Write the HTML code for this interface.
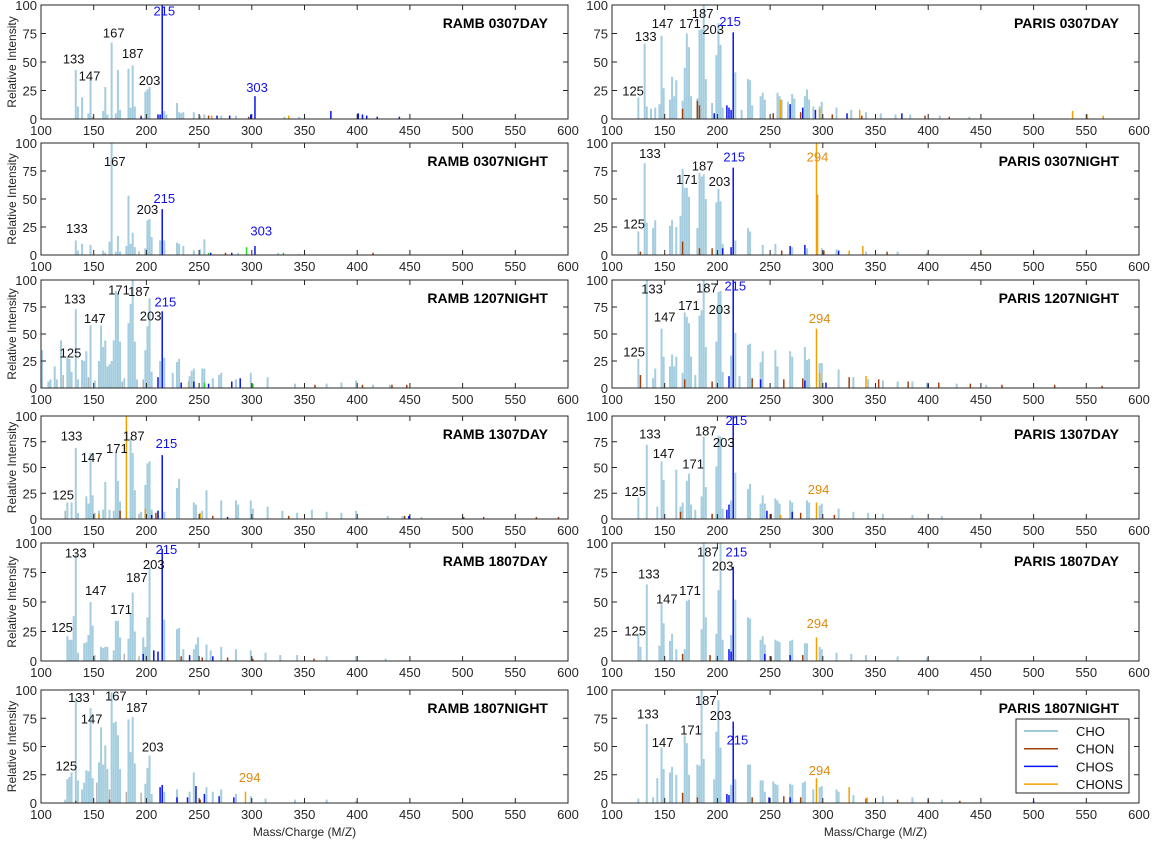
<!DOCTYPE html>
<html><head><meta charset="utf-8"><style>
html,body{margin:0;padding:0;background:#fff;}
svg{display:block;font-family:"Liberation Sans",Arial,sans-serif;}
</style></head><body>
<svg id="fig" width="1152" height="843" viewBox="0 0 1152 843" xmlns="http://www.w3.org/2000/svg">
<rect x="0" y="0" width="1152" height="843" fill="#fff"/>
</svg>
<script>
// ---- data: [m/z, relative intensity, class]  c=CHO n=CHON s=CHOS x=CHONS g=other e=green ----
const xTicks = [100,150,200,250,300,350,400,450,500,550,600];
const yTicks = [0,25,50,75,100];
const panelTitles = ["RAMB 0307DAY","PARIS 0307DAY","RAMB 0307NIGHT","PARIS 0307NIGHT","RAMB 1207NIGHT","PARIS 1207NIGHT","RAMB 1307DAY","PARIS 1307DAY","RAMB 1807DAY","PARIS 1807DAY","RAMB 1807NIGHT","PARIS 1807NIGHT"];

const peaksRamb0307Day = [[133,43,'c'],[135,11,'c'],[139,19,'c'],[145,5,'c'],[147,37,'c'],[159,7,'c'],[161,28,'c'],[163,4,'c'],[167,67,'c'],[171,5,'c'],[173,43,'c'],[175,8,'c'],[183,44,'c'],[185,10,'c'],[187,47,'c'],[189,11,'c'],[199,24,'c'],[201,26,'c'],[203,28,'c'],[217,7,'c'],[219,4,'c'],[229,14,'c'],[231,6,'c'],[233,5,'c'],[235,6,'c'],[245,6,'c'],[255,4,'c'],[271,3,'c'],[285,3,'c'],[299,2,'c'],[331,2,'c'],[345,2,'c'],
[215,100,'s'],[303,20,'s'],[213,4,'s'],[211,4,'s'],[195,2,'s'],[267,3,'s'],[279,3,'s'],[299,4,'s'],[375,7,'s'],[401,5,'s'],[405,4,'s'],[409,3,'s'],[419,2,'s'],[440,2,'s'],
[195,3,'n'],[259,3,'n'],[297,2,'n'],[335,3,'x'],[262,3,'x'],[149,2,'g'],[251,3,'g']];
const peaksRamb0307Night = [[133,13,'c'],[135,4,'c'],[139,10,'c'],[147,9,'c'],[159,4,'c'],[165,12,'c'],[167,100,'c'],[171,3,'c'],[173,17,'c'],[175,3,'c'],[181,8,'c'],[183,53,'c'],[185,10,'c'],[187,20,'c'],[189,7,'c'],[199,6,'c'],[201,31,'c'],[203,32,'c'],[205,16,'c'],[213,13,'c'],[217,13,'c'],[229,11,'c'],[231,10,'c'],[235,8,'c'],[245,4,'c'],[251,5,'c'],[255,14,'c'],[287,2,'c'],[325,2,'c'],[345,1,'c'],
[215,41,'s'],[303,8,'s'],[261,2,'s'],[281,2,'s'],[295,7,'e'],[259,2,'e'],[330,2,'e'],[161,2,'g'],[193,3,'g'],[275,2,'n'],[415,2,'n']];
const peaksRamb1207Night = [[101,35,'c'],[107,6,'c'],[109,8,'c'],[113,20,'c'],[115,8,'c'],[119,44,'c'],[125,28,'c'],[127,27,'c'],[129,15,'c'],[133,73,'c'],[135,8,'c'],[139,26,'c'],[141,25,'c'],[143,34,'c'],[147,58,'c'],[151,7,'c'],[155,25,'c'],[157,58,'c'],[159,38,'c'],[161,44,'c'],[163,20,'c'],[165,22,'c'],[167,25,'c'],[169,44,'c'],[171,90,'c'],[173,88,'c'],[175,43,'c'],[179,9,'c'],[183,60,'c'],[185,78,'c'],[187,100,'c'],[189,43,'c'],[191,8,'c'],[199,35,'c'],[201,57,'c'],[203,83,'c'],[205,15,'c'],[213,25,'c'],[217,28,'c'],[225,14,'c'],[229,24,'c'],[231,27,'c'],[241,11,'c'],[243,16,'c'],[245,18,'c'],[253,18,'c'],[255,18,'c'],[263,9,'c'],[269,12,'c'],[271,14,'c'],[285,8,'c'],[299,14,'c'],[315,10,'c'],[341,4,'c'],[371,4,'c'],[385,5,'c'],[399,7,'c'],[415,3,'c'],[431,3,'c'],
[215,71,'s'],[211,10,'s'],[233,5,'s'],[245,6,'s'],[281,6,'s'],[289,9,'s'],[259,4,'s'],[255,5,'e'],[301,4,'e'],[121,12,'g'],[145,10,'g'],[177,6,'g'],[197,8,'g'],[240,6,'g'],[360,3,'n'],[405,3,'n'],[433,3,'n'],[447,3,'n']];
const peaksRamb1307Day = [[125,16,'c'],[129,16,'c'],[133,69,'c'],[135,6,'c'],[143,22,'c'],[145,15,'c'],[147,64,'c'],[149,23,'c'],[155,8,'c'],[159,9,'c'],[161,36,'c'],[165,9,'c'],[169,8,'c'],[171,65,'c'],[173,37,'c'],[175,17,'c'],[185,78,'c'],[187,64,'c'],[189,28,'c'],[195,7,'c'],[199,33,'c'],[201,54,'c'],[203,56,'c'],[205,9,'c'],[211,8,'c'],[217,7,'c'],[229,30,'c'],[231,39,'c'],[245,16,'c'],[247,14,'c'],[253,8,'c'],[257,28,'c'],[271,18,'c'],[285,18,'c'],[287,14,'c'],[299,18,'c'],[301,10,'c'],[315,12,'c'],[329,8,'c'],[343,6,'c'],[357,9,'c'],[371,7,'c'],[385,6,'c'],[399,8,'c'],[429,3,'c'],[443,3,'c'],[461,2,'c'],
[181,100,'x'],[155,5,'x'],[199,10,'x'],[251,6,'x'],[215,62,'s'],[211,8,'s'],[205,4,'s'],[277,2,'s'],[449,3,'s'],[175,8,'n'],[209,6,'n'],[263,3,'n'],[335,3,'n'],[445,3,'n'],[501,2,'n'],[520,2,'n'],[570,2,'n'],[591,2,'n'],[123,8,'g'],[151,6,'g'],[193,5,'g']];
const peaksRamb1807Day = [[125,21,'c'],[127,18,'c'],[129,18,'c'],[131,38,'c'],[133,90,'c'],[135,7,'c'],[141,15,'c'],[143,16,'c'],[145,22,'c'],[147,50,'c'],[149,30,'c'],[157,12,'c'],[159,11,'c'],[161,12,'c'],[163,12,'c'],[169,9,'c'],[171,34,'c'],[173,34,'c'],[175,20,'c'],[183,19,'c'],[185,40,'c'],[187,58,'c'],[189,25,'c'],[197,20,'c'],[199,12,'c'],[201,37,'c'],[203,80,'c'],[217,35,'c'],[229,27,'c'],[231,28,'c'],[235,10,'c'],[245,10,'c'],[247,14,'c'],[249,20,'c'],[257,14,'c'],[261,9,'c'],[271,12,'c'],[285,10,'c'],[299,9,'c'],[313,7,'c'],[327,5,'c'],[343,5,'c'],[371,4,'c'],[399,4,'c'],[427,2,'c'],
[215,95,'s'],[211,8,'s'],[197,6,'s'],[207,9,'s'],[241,5,'s'],[263,4,'s'],[233,4,'n'],[253,3,'n'],[277,3,'n'],[301,2,'n'],[359,2,'n'],[151,5,'g'],[179,6,'g'],[193,4,'g']];
const peaksRamb1807Night = [[123,3,'c'],[125,21,'c'],[127,23,'c'],[129,27,'c'],[133,93,'c'],[135,20,'c'],[139,12,'c'],[141,18,'c'],[143,29,'c'],[145,28,'c'],[147,84,'c'],[149,22,'c'],[155,36,'c'],[157,67,'c'],[159,34,'c'],[161,51,'c'],[163,30,'c'],[167,98,'c'],[169,71,'c'],[171,72,'c'],[173,60,'c'],[175,30,'c'],[183,74,'c'],[185,45,'c'],[187,76,'c'],[189,35,'c'],[199,17,'c'],[201,31,'c'],[203,42,'c'],[205,8,'c'],[217,10,'c'],[229,12,'c'],[241,10,'c'],[245,27,'c'],[257,14,'c'],[263,10,'c'],[271,12,'c'],[285,8,'c'],[299,6,'c'],[313,4,'c'],[341,3,'c'],[371,3,'c'],[399,2,'c'],
[213,14,'s'],[215,16,'s'],[229,5,'s'],[239,5,'s'],[247,15,'s'],[255,8,'s'],[269,6,'s'],[283,5,'s'],[294,10,'x'],[133,2,'n'],[165,3,'n'],[251,3,'n'],[153,18,'g'],[165,12,'g'],[181,10,'g'],[195,9,'g']];
const peaksParis0307Day = [[125,19,'c'],[131,66,'c'],[133,11,'c'],[137,9,'c'],[141,10,'c'],[145,13,'c'],[147,73,'c'],[149,27,'c'],[155,17,'c'],[157,37,'c'],[159,20,'c'],[161,34,'c'],[167,16,'c'],[169,45,'c'],[171,75,'c'],[173,63,'c'],[175,20,'c'],[181,18,'c'],[183,78,'c'],[185,79,'c'],[187,100,'c'],[189,35,'c'],[195,14,'c'],[199,56,'c'],[201,84,'c'],[203,65,'c'],[205,10,'c'],[217,41,'c'],[223,8,'c'],[229,35,'c'],[231,34,'c'],[233,12,'c'],[241,20,'c'],[243,23,'c'],[245,17,'c'],[257,23,'c'],[259,20,'c'],[261,17,'c'],[267,15,'c'],[271,22,'c'],[273,18,'c'],[283,20,'c'],[285,26,'c'],[287,17,'c'],[291,11,'c'],[297,11,'c'],[299,15,'c'],[313,10,'c'],[327,8,'c'],[341,6,'c'],[355,5,'c'],[369,4,'c'],[383,4,'c'],[411,3,'c'],[439,2,'c'],
[167,9,'n'],[181,16,'n'],[183,12,'n'],[253,5,'n'],[279,6,'n'],[309,4,'n'],[337,3,'n'],[397,3,'n'],[420,2,'n'],[197,5,'s'],[209,12,'s'],[211,10,'s'],[215,76,'s'],[213,8,'s'],[269,13,'s'],[281,10,'s'],[293,8,'s'],[323,5,'s'],[375,5,'s'],[260,17,'x'],[297,9,'x'],[335,8,'x'],[537,7,'x'],[551,4,'x'],[566,3,'x']];
const peaksParis0307Night = [[125,21,'c'],[131,82,'c'],[133,29,'c'],[139,24,'c'],[141,31,'c'],[155,26,'c'],[157,31,'c'],[161,25,'c'],[165,35,'c'],[167,77,'c'],[169,60,'c'],[171,60,'c'],[173,52,'c'],[181,24,'c'],[183,73,'c'],[185,70,'c'],[187,72,'c'],[189,50,'c'],[199,47,'c'],[201,59,'c'],[203,48,'c'],[205,10,'c'],[217,13,'c'],[229,24,'c'],[231,21,'c'],[243,9,'c'],[255,10,'c'],[271,7,'c'],[285,6,'c'],[299,6,'c'],[313,5,'c'],[341,3,'c'],[371,3,'c'],[399,2,'c'],
[167,12,'n'],[127,3,'n'],[183,6,'n'],[195,6,'n'],[261,4,'n'],[301,4,'n'],[361,3,'n'],[215,78,'s'],[205,6,'s'],[213,7,'s'],[269,8,'s'],[283,9,'s'],[315,4,'s'],[294,100,'x'],[295,54,'x'],[338,8,'x'],[325,4,'x'],[450,2,'x']];
const peaksParis1207Night = [[125,27,'c'],[133,100,'c'],[139,9,'c'],[141,18,'c'],[147,55,'c'],[149,29,'c'],[155,20,'c'],[157,31,'c'],[159,20,'c'],[161,29,'c'],[167,14,'c'],[169,70,'c'],[171,66,'c'],[173,60,'c'],[175,29,'c'],[179,12,'c'],[183,67,'c'],[185,72,'c'],[187,100,'c'],[189,38,'c'],[199,43,'c'],[201,89,'c'],[203,90,'c'],[205,15,'c'],[213,30,'c'],[217,51,'c'],[221,11,'c'],[229,40,'c'],[231,41,'c'],[241,24,'c'],[243,34,'c'],[255,35,'c'],[257,20,'c'],[269,34,'c'],[271,29,'c'],[283,38,'c'],[285,26,'c'],[287,27,'c'],[297,23,'c'],[299,23,'c'],[315,17,'c'],[329,10,'c'],[343,8,'c'],[357,7,'c'],[371,6,'c'],[385,6,'c'],[399,5,'c'],[427,4,'c'],[455,3,'c'],
[127,12,'n'],[169,8,'n'],[195,6,'n'],[233,9,'n'],[263,8,'n'],[281,9,'n'],[325,10,'n'],[353,8,'n'],[381,6,'n'],[410,5,'n'],[440,4,'n'],[470,3,'n'],[520,3,'n'],[565,2,'n'],[215,100,'s'],[211,11,'s'],[241,8,'s'],[283,7,'s'],[303,5,'s'],[400,4,'s'],[294,55,'x'],[297,14,'x'],[341,11,'x']];
const peaksParis1307Day = [[125,21,'c'],[133,72,'c'],[143,12,'c'],[147,56,'c'],[149,38,'c'],[161,48,'c'],[165,12,'c'],[167,16,'c'],[171,37,'c'],[173,44,'c'],[175,14,'c'],[179,9,'c'],[185,22,'c'],[187,80,'c'],[189,31,'c'],[199,51,'c'],[201,81,'c'],[203,80,'c'],[205,10,'c'],[213,18,'c'],[217,45,'c'],[229,29,'c'],[231,34,'c'],[241,15,'c'],[243,23,'c'],[245,15,'c'],[255,20,'c'],[257,18,'c'],[259,15,'c'],[269,18,'c'],[271,16,'c'],[285,18,'c'],[287,16,'c'],[297,13,'c'],[299,15,'c'],[315,10,'c'],[329,7,'c'],[343,6,'c'],[357,5,'c'],[385,4,'c'],[413,3,'c'],
[165,7,'n'],[195,5,'n'],[251,5,'n'],[279,6,'n'],[311,4,'n'],[215,100,'s'],[211,14,'s'],[209,9,'s'],[247,8,'s'],[271,7,'s'],[294,16,'x'],[260,4,'x']];
const peaksParis1807Day = [[125,23,'c'],[127,12,'c'],[133,65,'c'],[145,13,'c'],[147,48,'c'],[149,32,'c'],[155,17,'c'],[157,23,'c'],[161,10,'c'],[169,10,'c'],[171,51,'c'],[173,52,'c'],[185,27,'c'],[187,100,'c'],[189,37,'c'],[199,23,'c'],[201,60,'c'],[203,100,'c'],[205,18,'c'],[213,22,'c'],[217,52,'c'],[229,37,'c'],[231,36,'c'],[241,18,'c'],[243,21,'c'],[245,14,'c'],[255,18,'c'],[257,17,'c'],[259,16,'c'],[269,17,'c'],[271,18,'c'],[283,15,'c'],[285,15,'c'],[297,12,'c'],[299,10,'c'],[313,7,'c'],[327,6,'c'],[341,5,'c'],[371,4,'c'],[399,3,'c'],
[167,6,'n'],[193,5,'n'],[251,4,'n'],[281,5,'n'],[215,80,'s'],[211,10,'s'],[213,8,'s'],[245,6,'s'],[269,5,'s'],[294,20,'x']];
const peaksParis1807Night = [[125,4,'c'],[133,70,'c'],[139,5,'c'],[143,22,'c'],[147,49,'c'],[149,30,'c'],[155,27,'c'],[157,32,'c'],[161,25,'c'],[169,60,'c'],[171,53,'c'],[173,25,'c'],[181,34,'c'],[183,33,'c'],[185,100,'c'],[187,39,'c'],[197,21,'c'],[199,63,'c'],[201,91,'c'],[203,49,'c'],[213,16,'c'],[217,21,'c'],[229,34,'c'],[231,34,'c'],[241,20,'c'],[243,20,'c'],[245,10,'c'],[253,19,'c'],[255,17,'c'],[257,16,'c'],[269,17,'c'],[271,16,'c'],[281,18,'c'],[283,19,'c'],[291,12,'c'],[297,14,'c'],[299,15,'c'],[313,12,'c'],[315,10,'c'],[329,7,'c'],[357,6,'c'],[385,5,'c'],[413,3,'c'],
[167,9,'n'],[181,5,'n'],[233,5,'n'],[263,6,'n'],[279,5,'n'],[341,4,'n'],[371,3,'n'],[400,3,'n'],[430,2,'n'],[215,72,'s'],[211,7,'s'],[209,8,'s'],[249,5,'s'],[269,5,'s'],[500,2,'s'],[294,22,'x'],[325,14,'x'],[342,5,'x']];

// labels: [text, m/z position, value position, class]
const labelsRamb0307Day = [["133",131,53,'c'],["147",146,38,'c'],["167",169,76,'c'],["187",187,58,'c'],["203",203,34,'c'],["215",217,95,'s'],["303",305,28,'s']];
const labelsRamb0307Night = [["167",170,84,'c'],["215",217,51,'s'],["203",201,41,'c'],["133",134,24,'c'],["303",309,22,'s']];
const labelsRamb1207Night = [["133",132,83,'c'],["147",151,65,'c'],["171",174,91,'c'],["187",193,90,'c'],["203",204,67,'c'],["215",218,80,'s'],["125",128,33,'c']];
const labelsRamb1307Day = [["133",129,81,'c'],["147",148,60,'c'],["171",172,69,'c'],["187",188,81,'c'],["215",219,74,'s'],["125",121,24,'c']];
const labelsRamb1807Day = [["133",133,92,'c'],["147",152,60,'c'],["171",176,44,'c'],["187",191,71,'c'],["203",207,82,'c'],["215",219,95,'s'],["125",120,29,'c']];
const labelsRamb1807Night = [["133",136,94,'c'],["147",148,75,'c'],["167",171,95,'c'],["187",191,85,'c'],["203",206,50,'c'],["294",298,23,'x'],["125",124,33,'c']];
const labelsParis0307Day = [["125",120,25,'c'],["133",132,73,'c'],["147",148,84,'c'],["171",174,84,'c'],["187",186,93,'c'],["203",196,79,'c'],["215",212,86,'s']];
const labelsParis0307Night = [["125",121,28,'c'],["133",136,91,'c'],["171",171,68,'c'],["187",186,80,'c'],["203",202,66,'c'],["215",216,88,'s'],["294",295,88,'x']];
const labelsParis1207Night = [["125",121,34,'c'],["133",138,92,'c'],["147",150,66,'c'],["171",173,77,'c'],["187",190,93,'c'],["203",202,73,'c'],["215",217,95,'s'],["294",297,65,'x']];
const labelsParis1307Day = [["125",122,27,'c'],["133",136,83,'c'],["147",149,64,'c'],["171",177,54,'c'],["187",189,86,'c'],["203",206,75,'c'],["215",218,96,'s'],["294",296,29,'x']];
const labelsParis1807Day = [["125",122,26,'c'],["133",135,74,'c'],["147",152,53,'c'],["171",174,60,'c'],["187",191,93,'c'],["203",205,81,'c'],["215",218,93,'s'],["294",295,32,'x']];
const labelsParis1807Night = [["133",134,79,'c'],["147",148,54,'c'],["171",175,65,'c'],["187",189,91,'c'],["203",203,78,'c'],["215",219,56,'s'],["294",297,29,'x']];

const legendNames = ["CHO","CHON","CHOS","CHONS"];

// ---- rendering ----
const NS = "http://www.w3.org/2000/svg";
const svg = document.getElementById('fig');
const colors = {c:'#9fcadd', n:'#a4400c', s:'#0a14f0', x:'#f2a100', g:'#b2b2b2', e:'#22dd22'};
const labelColors = {c:'#111', s:'#1010ee', x:'#e08a10'};
function mk(tag, attrs, parent){const e=document.createElementNS(NS,tag);for(const k in attrs)e.setAttribute(k,attrs[k]);(parent||svg).appendChild(e);return e;}

const cols = [{x0:41,x1:568},{x0:612,x1:1139}];
const rows = [{y0:5,y1:119},{y0:143,y1:255},{y0:280,y1:388},{y0:416,y1:519},{y0:543,y1:661},{y0:690,y1:803}];
const panelPeaks = [peaksRamb0307Day,peaksParis0307Day,peaksRamb0307Night,peaksParis0307Night,peaksRamb1207Night,peaksParis1207Night,peaksRamb1307Day,peaksParis1307Day,peaksRamb1807Day,peaksParis1807Day,peaksRamb1807Night,peaksParis1807Night];
const panelLabels = [labelsRamb0307Day,labelsParis0307Day,labelsRamb0307Night,labelsParis0307Night,labelsRamb1207Night,labelsParis1207Night,labelsRamb1307Day,labelsParis1307Day,labelsRamb1807Day,labelsParis1807Day,labelsRamb1807Night,labelsParis1807Night];
const order = {c:0,g:1,e:2,n:3,x:4,s:5};

panelTitles.forEach((title,i)=>{
  const col = cols[i%2], row = rows[Math.floor(i/2)];
  const xS = v => col.x0 + (v-100)/500*(col.x1-col.x0);
  const yS = v => row.y1 - v/100*(row.y1-row.y0);
  const slug = title.toLowerCase().replace(/\s+/g,'-');
  const g = mk('g',{});
  
  
  const peaks = panelPeaks[i].slice().sort((a,b)=>order[a[2]]-order[b[2]]);
  peaks.forEach(p=>{
    const w = p[2]==='c'?2:1.5;
    const r = mk('rect',{x:(xS(p[0])-w/2).toFixed(2),y:yS(p[1]).toFixed(2),width:w,height:(yS(0)-yS(p[1])).toFixed(2),fill:colors[p[2]],opacity:p[2]==='c'?0.95:1},g);
    
    
  });
  // axes box
  const box = mk('rect',{x:col.x0,y:row.y0,width:col.x1-col.x0,height:row.y1-row.y0,fill:'none',stroke:'#262626','stroke-width':1},g);
  
  
  xTicks.forEach(t=>{
    const x=xS(t);
    mk('line',{x1:x,x2:x,y1:row.y1,y2:row.y1-5,stroke:'#262626'},g);
    mk('line',{x1:x,x2:x,y1:row.y0,y2:row.y0+5,stroke:'#262626'},g);
    const tx = mk('text',{x:x,y:row.y1+16,'text-anchor':'middle','font-size':13,fill:'#262626'},g);
    tx.textContent = t;
    
    
  });
  yTicks.forEach(t=>{
    const y=yS(t);
    mk('line',{x1:col.x0,x2:col.x0+5,y1:y,y2:y,stroke:'#262626'},g);
    mk('line',{x1:col.x1,x2:col.x1-5,y1:y,y2:y,stroke:'#262626'},g);
    const ty = mk('text',{x:col.x0-4,y:y+5,'text-anchor':'end','font-size':13,fill:'#262626'},g);
    ty.textContent = t;
    
    
  });
  const tt = mk('text',{x:col.x1-20,y:row.y0+23,'text-anchor':'end','font-size':14,'font-weight':'bold',fill:'#000'},g);
  tt.textContent = title;
  
  
  if(i%2===0){
    const cy=(row.y0+row.y1)/2;
    const yl = mk('text',{x:16,y:cy,'text-anchor':'middle','font-size':12,fill:'#262626',transform:'rotate(-90 16 '+cy+')'},g);
    yl.textContent = 'Relative Intensity';
    
    
  }
  panelLabels[i].forEach(l=>{
    const lt = mk('text',{x:xS(l[1]),y:yS(l[2])+5,'text-anchor':'middle','font-size':13,fill:labelColors[l[3]]},g);
    lt.textContent = l[0];
    
    
  });
});

// x axis titles
[cols[0],cols[1]].forEach(col=>{
  const t = mk('text',{x:(col.x0+col.x1)/2,y:836,'text-anchor':'middle','font-size':12,fill:'#262626'});
  t.textContent = 'Mass/Charge (M/Z)';
  
  
});

// legend
const lg = mk('g',{});


mk('rect',{x:1016,y:719,width:113,height:74,fill:'#fff',stroke:'#262626'},lg);
const legendKeys=['c','n','s','x'];
const legendLineColors={c:'#7fb8d0',n:'#a4400c',s:'#0a14f0',x:'#f2a100'};
legendNames.forEach((name,k)=>{
  const y = 731 + k*17.7;
  const e = mk('g',{},lg);
  
  
  mk('line',{x1:1024,x2:1058,y1:y,y2:y,stroke:legendLineColors[legendKeys[k]],'stroke-width':1.5},e);
  const t = mk('text',{x:1076,y:y+5,'font-size':13,fill:'#111'},e);
  t.textContent = name;
});
</script>
</body></html>
